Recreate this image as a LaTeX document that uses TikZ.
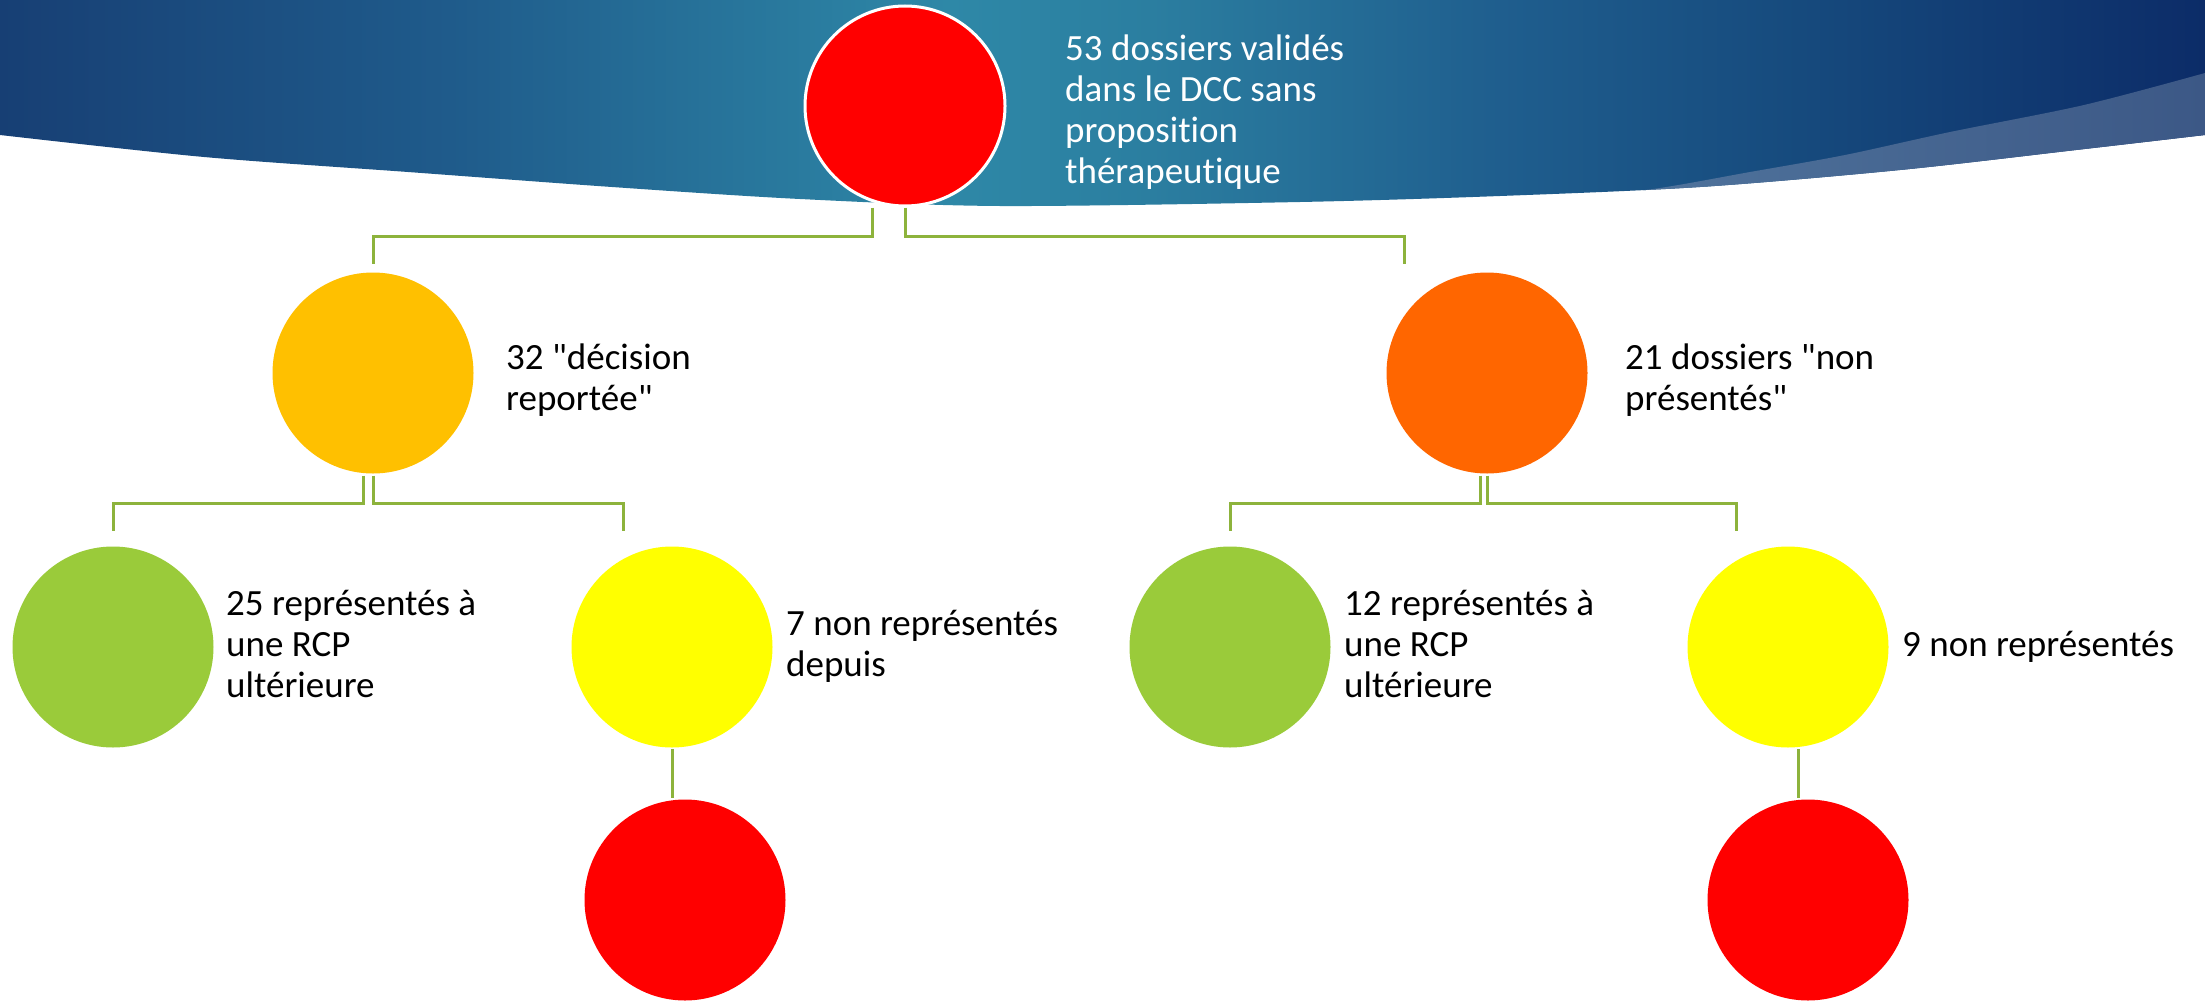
\documentclass[tikz,border=0pt]{standalone}
\usepackage{fontspec}
\setmainfont{Carlito}[Ligatures={TeXOff,NoCommon}]
\definecolor{cred}{HTML}{FF0000}
\definecolor{camber}{HTML}{FFC000}
\definecolor{corange}{HTML}{FF6600}
\definecolor{cgreen}{HTML}{9ACB3A}
\definecolor{cyellow}{HTML}{FFFF00}
\definecolor{cline}{HTML}{8DB33C}
\definecolor{bA}{HTML}{173F74}
\definecolor{bB}{HTML}{1F5B8B}
\definecolor{bC}{HTML}{2E88A7}
\definecolor{bD}{HTML}{2B7EA0}
\definecolor{bE}{HTML}{1F5E8E}
\definecolor{bF}{HTML}{164A7D}
\definecolor{bG}{HTML}{0C2C68}
\definecolor{bandL}{HTML}{52779F}
\definecolor{bandR}{HTML}{3C5886}
\pgfdeclarehorizontalshading{banner}{100bp}{color(0bp)=(bA); color(25bp)=(bA); color(35.2bp)=(bB); color(46.5bp)=(bC); color(51.1bp)=(bD); color(59bp)=(bE); color(65.8bp)=(bF); color(75bp)=(bG); color(100bp)=(bG)}
\begin{document}
\begin{tikzpicture}[x=1pt,y=-1pt,
  circ/.style={circle, inner sep=0pt, minimum size=201pt, draw=none},
  conn/.style={draw=cline, line width=3pt},
  lbl/.style={anchor=base west, align=left, inner sep=0pt, font=\fontsize{37}{41}\selectfont},
]
\useasboundingbox (0,0) rectangle (2205,1001);
\fill[white] (0,0) rectangle (2205,1001);
% banner
\begin{scope}
\clip (0,0) -- plot[smooth] coordinates {(0,135) (204,157) (408,172) (612,187) (800,199) (1000,206) (1300,202) (1500,196) (1700,187) (1900,170) (2076,150) (2205,135)} -- (2205,0) -- cycle;
\shade[shading=banner] (0,0) rectangle (2205,260);
\shade[left color=bandL, right color=bandR] plot[smooth] coordinates {(1560,198) (1653,189) (1750,172) (1845,155) (1950,132) (2084,105) (2205,73)} -- (2205,260) -- (1560,260) -- cycle;
\end{scope}
% circles
\node[circ, fill=cred, draw=white, line width=3pt, minimum size=200pt] (top) at (905,106) {};
\node[circ, fill=camber] (o1) at (373,373) {};
\node[circ, fill=corange] (o2) at (1487,373) {};
\node[circ, fill=cgreen] (g1) at (113,647) {};
\node[circ, fill=cyellow] (y1) at (672,647) {};
\node[circ, fill=cgreen] (g2) at (1230,647) {};
\node[circ, fill=cyellow] (y2) at (1788,647) {};
\node[circ, fill=cred] (r1) at (685,900) {};
\node[circ, fill=cred] (r2) at (1808,900) {};
% connectors
\draw[conn] ([xshift=-33pt]top.south) -- ++(0,29) -| ([yshift=8pt]o1.north);
\draw[conn] (top.south) -- ++(0,29) -| ([xshift=-83pt,yshift=8pt]o2.north);
\draw[conn] ([xshift=-10pt,yshift=-2pt]o1.south) -- ++(0,28) -| ([yshift=15pt]g1.north);
\draw[conn] ([yshift=-2pt]o1.south) -- ++(0,28) -| ([xshift=-49pt,yshift=15pt]y1.north);
\draw[conn] ([xshift=-6.5pt,yshift=-2pt]o2.south) -- ++(0,28) -| ([yshift=15pt]g2.north);
\draw[conn] ([yshift=-2pt]o2.south) -- ++(0,28) -| ([xshift=-52pt,yshift=15pt]y2.north);
\draw[conn] ([yshift=-1.5pt]y1.south) -- ++(0,49);
\draw[conn] ([xshift=10pt,yshift=-1.5pt]y2.south) -- ++(0,49);
% labels (anchored at the baseline of the last line)
\node[lbl, text=white] (t0) at (1065,183) {53 dossiers validés\\dans le DCC sans\\proposition\\thérapeutique};
\node[lbl] (t1) at (506,410) {32 "décision\\reportée"};
\node[lbl] (t2) at (1625,410) {21 dossiers "non\\présentés"};
\node[lbl] (t3) at (226,697) {25 représentés à\\une RCP\\ultérieure};
\node[lbl] (t4) at (786,676) {7 non représentés\\depuis};
\node[lbl] (t5) at (1344,697) {12 représentés à\\une RCP\\ultérieure};
\node[lbl] (t6) at (1902,656) {9 non représentés};
\end{tikzpicture}
\end{document}
